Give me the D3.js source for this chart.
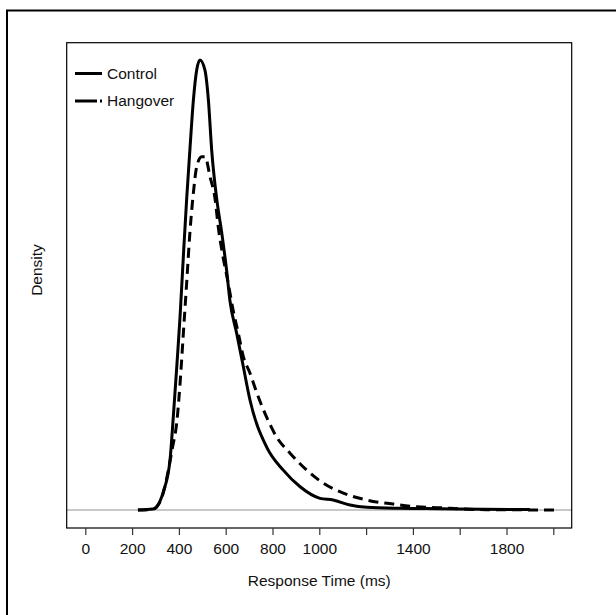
<!DOCTYPE html>
<html>
<head>
<meta charset="utf-8">
<script src="https://cdn.jsdelivr.net/npm/d3@7"></script>
<style>
  body { margin: 0; background: #fff; }
  svg { display: block; }
  text { font-family: "Liberation Sans", Arial, sans-serif; fill: #111; }
</style>
</head>
<body>
<svg id="chart" width="616" height="615"></svg>
<script>
// response time (ms) and density (x 1e-3)
var controlTime = [225, 289, 305, 333, 362, 376, 391, 405, 419, 433, 447, 462, 476, 490, 511, 526, 540, 562, 583, 604, 618, 647, 675, 704, 775, 846, 918, 1003, 1059, 1131, 1203, 1345, 1516, 1700, 1900]
var controlDens = [0, 0.01, 0.033, 0.18, 0.50, 0.93, 1.44, 1.94, 2.54, 3.11, 3.61, 4.11, 4.41, 4.51, 4.41, 4.11, 3.61, 3.11, 2.78, 2.40, 2.10, 1.77, 1.44, 1.10, 0.63, 0.40, 0.233, 0.117, 0.10, 0.05, 0.027, 0.017, 0.013, 0.008, 0.005]

var hangTime = [225, 290, 305, 333, 355, 372, 391, 405, 419, 433, 447, 462, 476, 497, 512, 533, 555, 568, 583, 611, 632, 654, 675, 704, 732, 775, 818, 875, 946, 1017, 1103, 1203, 1316, 1416, 1516, 1614, 1715, 1850, 2007]
var hangDens = [0, 0.008, 0.03, 0.17, 0.40, 0.62, 0.88, 1.27, 1.77, 2.27, 2.78, 3.18, 3.44, 3.54, 3.54, 3.34, 3.11, 2.84, 2.61, 2.27, 2.00, 1.77, 1.54, 1.37, 1.18, 0.93, 0.73, 0.57, 0.40, 0.27, 0.17, 0.10, 0.06, 0.033, 0.023, 0.01, 0.004, 0.002, 0]

var tickValues = [0, 200, 400, 600, 800, 1000, 1200, 1400, 1600, 1800, 2000]
var tickLabels = ["0", "200", "400", "600", "800", "1000", "", "1400", "", "1800", ""]

var seriesNames = ["Control", "Hangover"]

var svg = d3.select('#chart')

// outer frame (only left + top visible)
svg.append('path')
	.attr('d', 'M7,615 L7,10.5 L616,10.5')
	.attr('fill', 'none')
	.attr('stroke', '#000')
	.attr('stroke-width', 2)

var box = {left: 66.7, right: 571.7, top: 42.7, bottom: 528}

var x = d3.scaleLinear().domain([0, 2000]).range([85.3, 553.3])
var y = d3.scaleLinear().domain([-0.18, 4.683]).range([box.bottom, box.top])

// zero line
svg.append('line')
	.attr('x1', box.left).attr('x2', box.right)
	.attr('y1', y(0)).attr('y2', y(0))
	.attr('stroke', '#c8c8c8')
	.attr('stroke-width', 2)

var line = d3.line()
	.x(function(d){ return x(d[0]) })
	.y(function(d){ return y(d[1]) })
	.curve(d3.curveMonotoneX)

var control = d3.zip(controlTime, controlDens)
var hang = d3.zip(hangTime, hangDens)

svg.append('path')
	.datum(control)
	.attr('d', line)
	.attr('fill', 'none')
	.attr('stroke', '#000')
	.attr('stroke-width', 3)
	.attr('stroke-linejoin', 'round')

svg.append('path')
	.datum(hang)
	.attr('d', line)
	.attr('fill', 'none')
	.attr('stroke', '#000')
	.attr('stroke-width', 3)
	.attr('stroke-dasharray', '10,6')

// plot box
svg.append('rect')
	.attr('x', box.left).attr('y', box.top)
	.attr('width', box.right - box.left)
	.attr('height', box.bottom - box.top)
	.attr('fill', 'none')
	.attr('stroke', '#000')
	.attr('stroke-width', 1.2)

// x axis
var xAxis = d3.axisBottom(x)
	.tickValues(tickValues)
	.tickFormat(function(d, i){ return tickLabels[i] })
	.tickSizeOuter(0)
	.tickSize(7)
	.tickPadding(8)

var gx = svg.append('g')
	.attr('transform', 'translate(0,' + box.bottom + ')')
	.call(xAxis)
gx.select('.domain').remove()
gx.selectAll('line').attr('stroke', '#333').attr('stroke-width', 1.2)
gx.selectAll('text')
	.style('font-family', '"Liberation Sans", Arial, sans-serif')
	.style('font-size', '15.5px')
	.attr('fill', '#111')

svg.append('text')
	.attr('x', x(1000))
	.attr('y', 586)
	.attr('text-anchor', 'middle')
	.style('font-size', '15.5px')
	.text('Response Time (ms)')

svg.append('text')
	.attr('transform', 'translate(42,' + 270 + ') rotate(-90)')
	.attr('text-anchor', 'middle')
	.style('font-size', '15.5px')
	.text('Density')

// legend
var legend = svg.append('g')
legend.selectAll('line')
	.data(seriesNames)
	.enter()
	.append('line')
	.attr('x1', 75).attr('x2', 102)
	.attr('y1', function(d, i){ return 73.5 + i * 27.5 })
	.attr('y2', function(d, i){ return 73.5 + i * 27.5 })
	.attr('stroke', '#000')
	.attr('stroke-width', 3)
	.attr('stroke-dasharray', function(d, i){ return i ? '22,3,2,20' : null })

legend.selectAll('text')
	.data(seriesNames)
	.enter()
	.append('text')
	.attr('x', 107)
	.attr('y', function(d, i){ return 73.5 + i * 27.5 })
	.attr('dy', '0.35em')
	.style('font-size', '15.5px')
	.text(function(d){ return d })
</script>
</body>
</html>
